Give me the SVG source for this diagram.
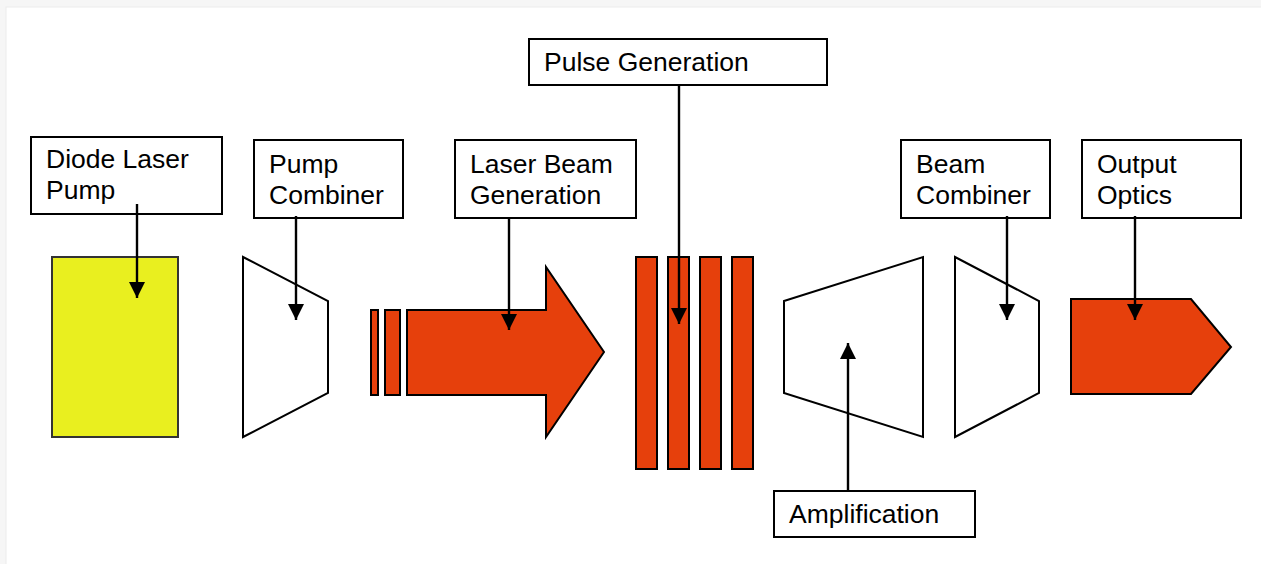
<svg xmlns="http://www.w3.org/2000/svg" width="1261" height="564" viewBox="0 0 1261 564">
  <defs>
    <style>
      .lbl { fill: #ffffff; stroke: #000000; stroke-width: 2; }
      .txt { font-family: "Liberation Sans", Arial, sans-serif; font-size: 26.5px; fill: #000000; }
      .org { fill: #E6400C; stroke: #000000; stroke-width: 2; stroke-linejoin: miter; }
      .wht { fill: #ffffff; stroke: #000000; stroke-width: 2; }
      .conn { stroke: #000000; stroke-width: 2.4; fill: none; }
    </style>
    <marker id="ah" viewBox="0 0 16 16" refX="16" refY="8" markerWidth="16" markerHeight="16" markerUnits="userSpaceOnUse" orient="auto">
      <path d="M0,0 L16,8 L0,16 Z" fill="#000000"/>
    </marker>
  </defs>
  <rect x="0" y="0" width="1261" height="564" fill="#f6f6f6"/>
  <rect x="6" y="7" width="1256" height="558" fill="#ffffff" stroke="#ececec" stroke-width="1"/>

  <g id="diode-pump">
    <rect x="52" y="257" width="126" height="180" fill="#E9EF1F" stroke="#333333" stroke-width="2"/>
  </g>
  <g id="pump-combiner">
    <polygon class="wht" points="243,257 328,301 328,393 243,437"/>
  </g>
  <g id="laser-beam">
    <rect class="org" x="371" y="310" width="7" height="85"/>
    <rect class="org" x="385" y="310" width="15" height="85"/>
    <polygon class="org" points="407,310 546,310 546,267 604,352 546,437 546,395 407,395"/>
  </g>
  <g id="pulse-bars">
    <rect class="org" x="636" y="257" width="21" height="212"/>
    <rect class="org" x="668" y="257" width="21" height="212"/>
    <rect class="org" x="700" y="257" width="21" height="212"/>
    <rect class="org" x="732" y="257" width="21" height="212"/>
  </g>
  <g id="amplifier">
    <polygon class="wht" points="784,301 923,257 923,437 784,393"/>
  </g>
  <g id="beam-combiner">
    <polygon class="wht" points="955,257 1039,301 1039,393 955,437"/>
  </g>
  <g id="output-optics">
    <polygon class="org" points="1071,299 1191,299 1231,347 1191,394 1071,394"/>
  </g>

  <g id="label-diode">
    <rect class="lbl" x="31" y="137" width="191" height="77"/>
    <text class="txt" x="46" y="168">Diode Laser</text>
    <text class="txt" x="46" y="199">Pump</text>
  </g>
  <g id="label-pump-combiner">
    <rect class="lbl" x="254" y="140" width="149" height="78"/>
    <text class="txt" x="269" y="173">Pump</text>
    <text class="txt" x="269" y="204">Combiner</text>
  </g>
  <g id="label-laser-beam">
    <rect class="lbl" x="455" y="140" width="181" height="78"/>
    <text class="txt" x="470" y="173">Laser Beam</text>
    <text class="txt" x="470" y="204">Generation</text>
  </g>
  <g id="label-pulse">
    <rect class="lbl" x="529" y="39" width="298" height="46"/>
    <text class="txt" x="544" y="71">Pulse Generation</text>
  </g>
  <g id="label-beam-combiner">
    <rect class="lbl" x="901" y="140" width="149" height="78"/>
    <text class="txt" x="916" y="173">Beam</text>
    <text class="txt" x="916" y="204">Combiner</text>
  </g>
  <g id="label-output">
    <rect class="lbl" x="1082" y="140" width="159" height="78"/>
    <text class="txt" x="1097" y="173">Output</text>
    <text class="txt" x="1097" y="204">Optics</text>
  </g>
  <g id="label-amplification">
    <rect class="lbl" x="774" y="491" width="201" height="46"/>
    <text class="txt" x="789" y="523">Amplification</text>
  </g>

  <g id="connectors">
    <line class="conn" x1="137" y1="204" x2="137" y2="298" marker-end="url(#ah)"/>
    <line class="conn" x1="296" y1="216" x2="296" y2="320" marker-end="url(#ah)"/>
    <line class="conn" x1="509" y1="218" x2="509" y2="330" marker-end="url(#ah)"/>
    <line class="conn" x1="679" y1="85" x2="679" y2="324" marker-end="url(#ah)"/>
    <line class="conn" x1="1007" y1="216" x2="1007" y2="320" marker-end="url(#ah)"/>
    <line class="conn" x1="1135" y1="216" x2="1135" y2="320" marker-end="url(#ah)"/>
    <line class="conn" x1="848" y1="491" x2="848" y2="343" marker-end="url(#ah)"/>
  </g>
</svg>
